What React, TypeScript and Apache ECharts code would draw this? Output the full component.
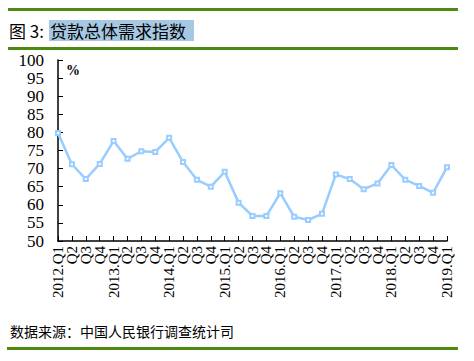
import React, { useEffect, useRef } from "react";
import * as echarts from "echarts";

const categories = [
  "2012.Q1", "Q2", "Q3", "Q4",
  "2013.Q1", "Q2", "Q3", "Q4",
  "2014.Q1", "Q2", "Q3", "Q4",
  "2015.Q1", "Q2", "Q3", "Q4",
  "2016.Q1", "Q2", "Q3", "Q4",
  "2017.Q1", "Q2", "Q3", "Q4",
  "2018.Q1", "Q2", "Q3", "Q4",
  "2019.Q1",
];
const values = [
  79.8, 71.2, 67.1, 71.3,
  77.6, 72.7, 74.8, 74.6,
  78.5, 71.8, 66.9, 65.0,
  69.1, 60.6, 56.9, 56.9,
  63.2, 56.7, 55.8, 57.5,
  68.4, 67.1, 64.3, 65.9,
  71.0, 66.9, 65.2, 63.3,
  70.4,
];
const titlePrefix = "图 3:";
const titleMain = "贷款总体需求指数";
const unitLabel = "%";
const sourceText = "数据来源：中国人民银行调查统计司";

const serif = "'Liberation Serif', 'Times New Roman', serif";

export default function App() {
  const ref = useRef<HTMLDivElement>(null);
  useEffect(() => {
    const chart = echarts.init(ref.current!, null, { renderer: "svg" });
    const green = "#4f8a10";
    chart.setOption({
      animation: false,
      backgroundColor: "#ffffff",
      grid: { left: 58, right: 27, top: 60, bottom: 120 },
      xAxis: {
        type: "category",
        data: categories,
        boundaryGap: false,
        axisLine: { lineStyle: { color: "#000", width: 1.5 } },
        axisTick: { inside: true, length: 5, interval: 0, lineStyle: { color: "#000" } },
        axisLabel: {
          interval: 0,
          rotate: 90,
          color: "#000",
          fontFamily: serif,
          fontSize: 15,
          margin: 5,
        },
      },
      yAxis: {
        type: "value",
        min: 50,
        max: 100,
        interval: 5,
        splitLine: { show: false },
        axisLine: { show: true, lineStyle: { color: "#000", width: 1.5 } },
        axisTick: { show: true, inside: true, length: 5, lineStyle: { color: "#000" } },
        axisLabel: {
          color: "#000",
          fontFamily: serif,
          fontSize: 17,
          margin: 14,
        },
      },
      series: [
        {
          type: "line",
          data: values,
          symbol: "emptyRect",
          symbolSize: 4,
          lineStyle: { color: "#99ccff", width: 2.5 },
          itemStyle: { color: "#99ccff", borderWidth: 1.2 },
        },
      ],
      graphic: [
        { type: "rect", shape: { x: 8, y: 8, width: 450, height: 3 }, style: { fill: green } },
        { type: "rect", shape: { x: 49, y: 20, width: 145, height: 21 }, style: { fill: "#a6c8e2" } },
        {
          type: "text", x: 9, y: 30,
          style: { text: titlePrefix, fill: "#000", font: "17px 'Noto Sans CJK SC'", verticalAlign: "middle" },
        },
        {
          type: "text", x: 50, y: 30,
          style: { text: titleMain, fill: "#000", font: "17px 'Noto Sans CJK SC'", verticalAlign: "middle" },
        },
        { type: "rect", shape: { x: 8, y: 47, width: 450, height: 3 }, style: { fill: green } },
        {
          type: "text", x: 66, y: 70,
          style: { text: unitLabel, fill: "#000", font: "bold 14px 'Liberation Serif'", verticalAlign: "middle" },
        },
        {
          type: "text", x: 10, y: 331,
          style: { text: sourceText, fill: "#000", font: "14px 'Noto Sans CJK SC'", verticalAlign: "middle" },
        },
        { type: "rect", shape: { x: 7, y: 347, width: 451, height: 3 }, style: { fill: green } },
      ],
    });
    return () => chart.dispose();
  }, []);
  return <div ref={ref} style={{ width: 474, height: 361, position: "absolute", left: 0, top: 0 }} />;
}
